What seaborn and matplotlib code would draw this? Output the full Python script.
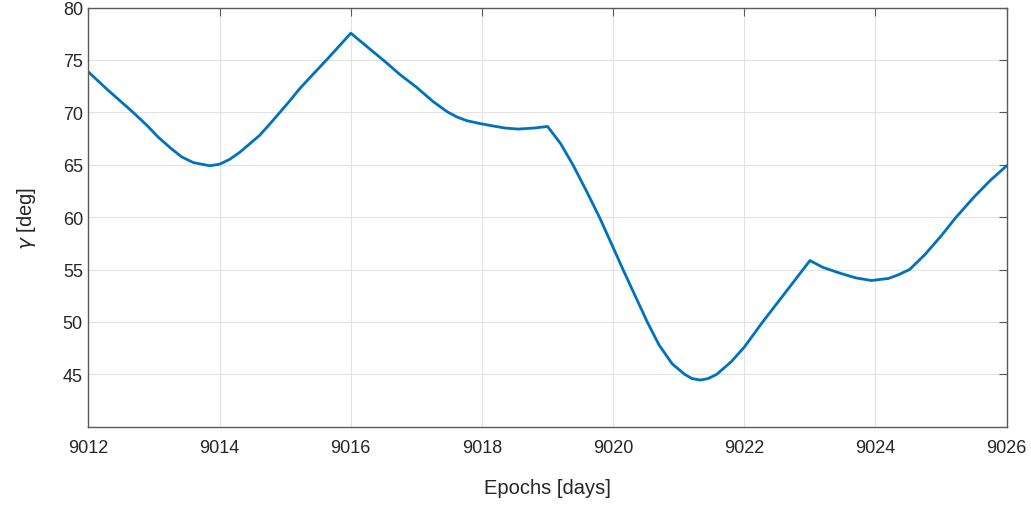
import numpy as np
import pandas as pd
import seaborn as sns
import matplotlib.pyplot as plt

# values
epochs = [9012.0, 9012.3, 9012.68, 9012.9, 9013.06, 9013.25, 9013.42, 9013.6,
          9013.85, 9014.0, 9014.15, 9014.31, 9014.45, 9014.61, 9014.76, 9014.92,
          9015.07, 9015.22, 9015.42, 9015.63, 9015.82, 9016.0, 9016.25, 9016.52,
          9016.75, 9017.0, 9017.25, 9017.47, 9017.62, 9017.77, 9017.95, 9018.12,
          9018.35, 9018.55, 9018.8, 9019.0, 9019.2, 9019.39, 9019.6, 9019.79,
          9020.0, 9020.15, 9020.52, 9020.7, 9020.9, 9021.09, 9021.2, 9021.33,
          9021.45, 9021.58, 9021.8, 9022.0, 9022.28, 9022.65, 9023.0, 9023.2,
          9023.46, 9023.7, 9023.94, 9024.2, 9024.35, 9024.52, 9024.75, 9025.0,
          9025.23, 9025.5, 9025.75, 9026.0]
gamma = [73.85, 72.1, 70.0, 68.7, 67.65, 66.6, 65.75, 65.2,
         64.9, 65.05, 65.5, 66.2, 66.95, 67.8, 68.85, 70.0,
         71.1, 72.25, 73.6, 75.0, 76.3, 77.55, 76.25, 74.85,
         73.6, 72.4, 71.05, 70.05, 69.55, 69.2, 68.95, 68.75,
         68.5, 68.4, 68.5, 68.65, 67.0, 64.95, 62.4, 60.0,
         57.1, 55.0, 50.0, 47.8, 46.0, 45.0, 44.6, 44.45,
         44.6, 45.0, 46.2, 47.6, 50.0, 53.0, 55.85, 55.2,
         54.65, 54.2, 53.95, 54.15, 54.5, 55.0, 56.4, 58.2,
         60.0, 61.9, 63.5, 64.9]
xticks = [9012, 9014, 9016, 9018, 9020, 9022, 9024, 9026]
yticks = [45, 50, 55, 60, 65, 70, 75, 80]

df = pd.DataFrame({'epoch': epochs, 'gamma': gamma})

sns.set_theme(style='white')
plt.rcParams['font.family'] = ['Liberation Sans', 'DejaVu Sans']

fig = plt.figure(figsize=(10.31, 5.06), dpi=100)
ax = fig.add_axes([0.0858, 0.1547, 0.8906, 0.8285])

sns.lineplot(data=df, x='epoch', y='gamma', ax=ax, color='#0072BD',
             linewidth=2.0, estimator=None, sort=False)

ax.set_xlim(9012, 9026)
ax.set_ylim(40, 80)
ax.set_xticks(xticks)
ax.set_yticks(yticks)
ax.grid(True, color='#e3e3e3', linewidth=0.8)
ax.set_axisbelow(True)

for s in ax.spines.values():
    s.set_color('#5a5a5a')
    s.set_linewidth(1.0)

ax.tick_params(direction='in', length=6, width=0.8, color='#5a5a5a',
               top=True, right=True, labelsize=13, labelcolor='#262626')
ax.tick_params(axis='x', pad=9)
ax.tick_params(axis='y', pad=4)

ax.set_xlabel('Epochs [days]', fontsize=14.5, color='#262626', labelpad=16)
ax.set_ylabel(r'$\gamma$ [deg]', fontsize=14.5, color='#262626', labelpad=18)

fig.savefig('out.png', dpi=100)
